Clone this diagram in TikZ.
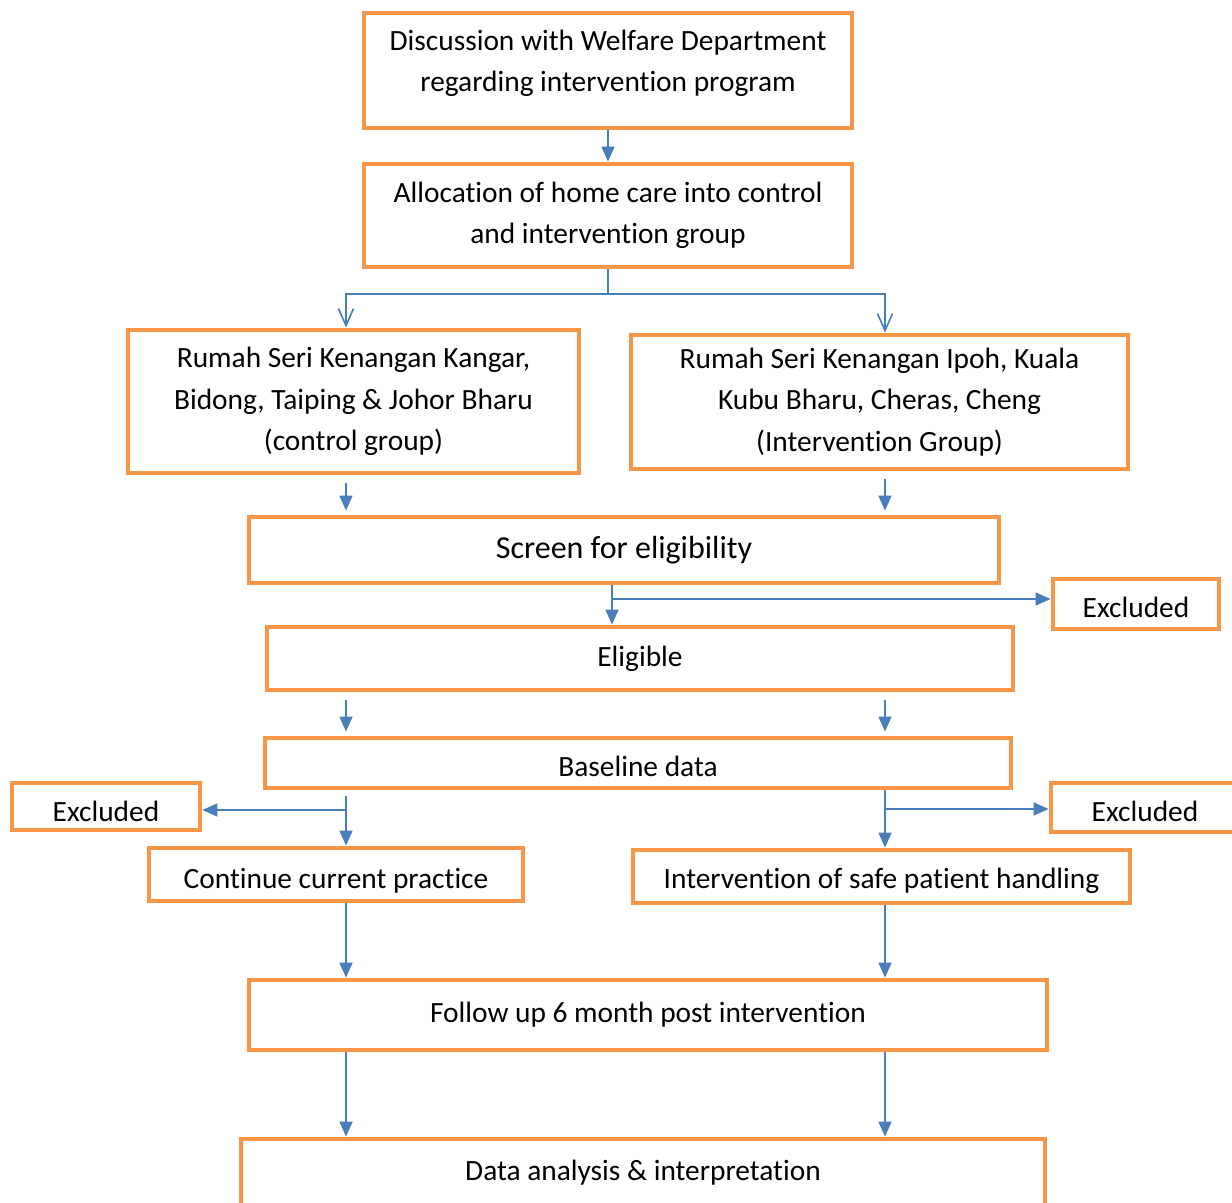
\documentclass[tikz,border=0pt]{standalone}
\usepackage{fontspec}
\setmainfont{Carlito}[Ligatures=NoCommon]
\definecolor{boxline}{HTML}{F79646}
\definecolor{flow}{HTML}{4A7EBB}
\usetikzlibrary{arrows.meta}

\begin{document}
\begin{tikzpicture}[x=0.5pt,y=-0.5pt,>={Triangle[length=7.5pt,width=6.5pt]},
  every node/.style={font=\fontsize{14.7}{20.7}\selectfont},
  box/.style={draw=boxline,line width=2.4pt,fill=white,rectangle,align=center,inner sep=0pt},
  arr/.style={->,flow,line width=0.8pt},
  splitarr/.style={-{Straight Barb[length=8.5pt,width=7.5pt]},flow,line width=0.8pt},
  gap/.style={shorten <=4pt,shorten >=2pt}]
\useasboundingbox (0,0) rectangle (1232,1203);
\node[box,minimum width=244pt,minimum height=57.5pt,text depth=10pt] (disc) at (608,70.5) {Discussion with Welfare Department\\regarding intervention program};
\node[box,minimum width=244pt,minimum height=51.5pt] (alloc) at (608,215.5) {Allocation of home care into control\\and intervention group};
\node[box,minimum width=225.5pt,minimum height=71.5pt] (ctrl) at (353.5,401.5) {Rumah Seri Kenangan Kangar,\\Bidong, Taiping \& Johor Bharu\\(control group)};
\node[box,minimum width=248.5pt,minimum height=67pt] (intv) at (879.5,402) {Rumah Seri Kenangan Ipoh, Kuala\\Kubu Bharu, Cheras, Cheng\\(Intervention Group)};
\node[box,minimum width=375pt,minimum height=33pt,font=\fontsize{16}{20}\selectfont] (screen) at (624,550) {Screen for eligibility};
\node[box,minimum width=83pt,minimum height=25pt,text height=14pt] (exclA) at (1136,604) {Excluded};
\node[box,minimum width=373pt,minimum height=31.5pt] (elig) at (640,658.5) {Eligible};
\node[box,minimum width=373pt,minimum height=25pt,text height=14pt] (base) at (638,763) {Baseline data};
\node[box,minimum width=94pt,minimum height=23.5pt,text height=15pt] (exclL) at (106,806.5) {Excluded};
\node[box,minimum width=187pt,minimum height=26.5pt,text height=16pt] (cont) at (336,874.5) {Continue current practice};
\node[box,minimum width=94pt,minimum height=24.5pt,text height=14pt] (exclR) at (1145,807.5) {Excluded};
\node[box,minimum width=248.5pt,minimum height=26.5pt,text height=15pt] (safe) at (881.5,876.5) {Intervention of safe patient handling};
\node[box,minimum width=399pt,minimum height=35pt] (follow) at (648,1015) {Follow up 6 month post intervention};
\node[box,minimum width=402pt,minimum height=34pt] (data) at (643,1173) {Data analysis \& interpretation};
\coordinate (colL) at (346,0);
\coordinate (colR) at (885,0);
\coordinate (colM) at (612,0);
\coordinate (split) at (608,294);
\coordinate (forkA) at (612,599);
\coordinate (forkL) at (346,810);
\coordinate (forkR) at (885,809);
\draw[arr] (disc) -- (alloc);
\draw[splitarr] (alloc) -- (split) -| (ctrl.north -| colL);
\draw[splitarr] (split) -| (intv.north -| colR);
\draw[arr,gap] (ctrl.south -| colL) -- (screen.north -| colL);
\draw[arr,gap] (intv.south -| colR) -- (screen.north -| colR);
\draw[arr] (screen.south -| colM) -- (elig.north -| colM);
\draw[arr] (forkA) -- (exclA.west |- forkA);
\draw[arr,gap] (elig.south -| colL) -- (base.north -| colL);
\draw[arr,gap] (elig.south -| colR) -- (base.north -| colR);
\draw[arr,shorten <=3pt] (base.south -| colL) -- (cont.north -| colL);
\draw[arr] (forkL) -- (exclL.east |- forkL);
\draw[arr] (base.south -| colR) -- (safe.north -| colR);
\draw[arr] (forkR) -- (exclR.west |- forkR);
\draw[arr] (cont.south -| colL) -- (follow.north -| colL);
\draw[arr] (safe.south -| colR) -- (follow.north -| colR);
\draw[arr] (follow.south -| colL) -- (data.north -| colL);
\draw[arr] (follow.south -| colR) -- (data.north -| colR);
\end{tikzpicture}
\end{document}
